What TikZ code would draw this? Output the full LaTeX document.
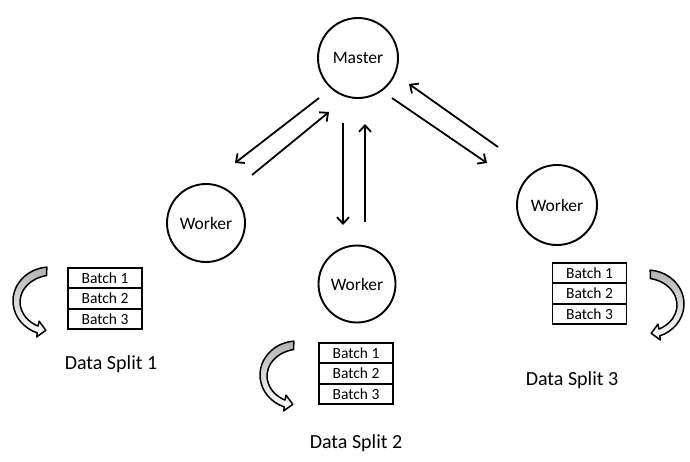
\documentclass[tikz,border=0pt]{standalone}
\usepackage{fontspec}
\setmainfont{Carlito}
\usetikzlibrary{arrows.meta,calc}
\begin{document}
\begin{tikzpicture}[x=1pt,y=-1pt,
  circ/.style={circle,draw,line width=1.9pt,minimum size=#1,inner sep=0pt,font=\fontsize{17.5}{20}\selectfont},
  batch/.style={draw,line width=1.9pt,minimum width=74pt,minimum height=20.3pt,inner sep=0pt,font=\fontsize{15.5}{18}\selectfont},
  lbl/.style={font=\fontsize{20}{23}\selectfont,inner sep=0pt},
  arr/.style={line width=1.8pt,-{Straight Barb[length=6.5pt,width=12pt,line width=1.8pt]}},
  curv/.style={line width=1.5pt,line join=round,top color=black!30,middle color=black!10,bottom color=white},
  carrow/.pic={
    \draw[curv] ($(50,301)+(265:37 and 34)$)
      arc[start angle=265,end angle=110,x radius=37,y radius=34]
      -- (36.7,336.9) -- (45.8,330.3) -- (39.1,321.2)
      -- ($(53,302)+(117:33 and 27)$)
      arc[start angle=117,end angle=259,x radius=33,y radius=27] -- cycle;
  }]
\useasboundingbox[fill=white] (0,0) rectangle (690,461);

% circles
\node[circ=80pt] (master) at (358,58) {Master};
\node[circ=78pt] (wl) at (206,223) {Worker};
\node[circ=77pt] (wm) at (357,284) {Worker};
\node[circ=80pt] (wr) at (557,205) {Worker};

% arrows
\draw[arr] ($(master)+(-39,40)$) -- ($(wl)+(29,-60)$);
\draw[arr] ($(wl)+(46,-48)$) -- ($(master)+(-29,54)$);
\draw[arr] ($(master)+(-15,65)$) -- ($(wm)+(-14,-59)$);
\draw[arr] ($(wm)+(8,-62)$) -- ($(master)+(7,66)$);
\draw[arr] ($(master)+(34,40)$) -- ($(wr)+(-70,-42)$);
\draw[arr] ($(wr)+(-59,-58)$) -- ($(master)+(51,26)$);

% batch tables
\node[batch] (l1) at (105,278) {Batch 1};
\node[batch] (l2) at (105,298.5) {Batch 2};
\node[batch] (l3) at (105,319) {Batch 3};
\node[batch] (m1) at (356,353) {Batch 1};
\node[batch] (m2) at (356,373.5) {Batch 2};
\node[batch] (m3) at (356,394) {Batch 3};
\node[batch] (r1) at (589.5,273) {Batch 1};
\node[batch] (r2) at (589.5,293.5) {Batch 2};
\node[batch] (r3) at (589.5,314) {Batch 3};

% labels
\node[lbl] (d1) at (111,364) {Data Split 1};
\node[lbl] (d2) at (356,443) {Data Split 2};
\node[lbl] (d3) at (572,380) {Data Split 3};

% curved arrows
\pic (ca1) at (0,0) {carrow};
\pic (ca2) at (247,74) {carrow};
\pic[xscale=-1] (ca3) at (697,3) {carrow};
\end{tikzpicture}
\end{document}
